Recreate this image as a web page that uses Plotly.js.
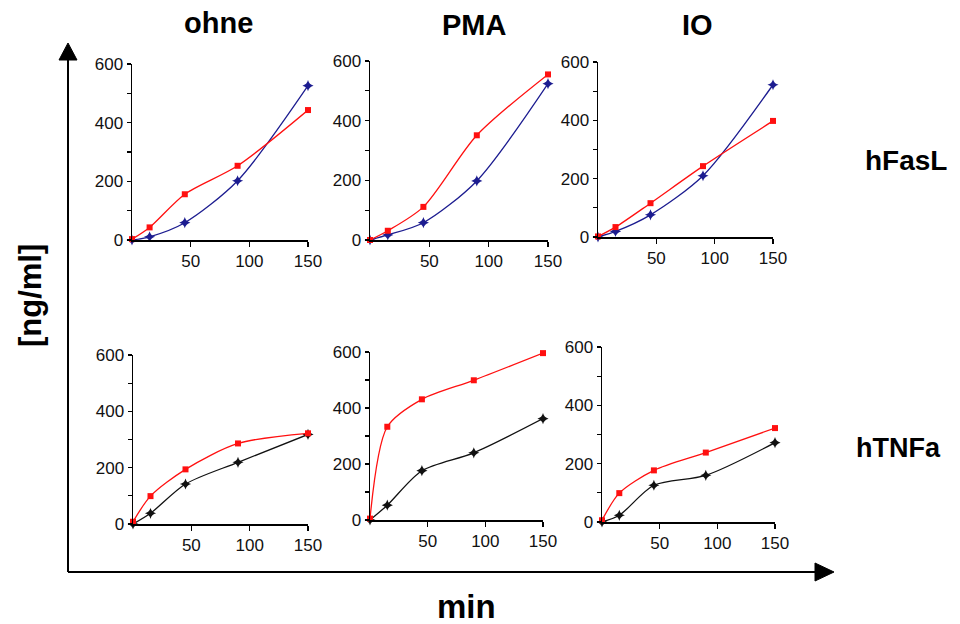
<!DOCTYPE html>
<html>
<head>
<meta charset="utf-8">
<script src="https://cdn.plot.ly/plotly-3.0.1.min.js"></script>
<style>html,body{margin:0;padding:0;background:#fff;}#chart{width:960px;height:624px;}</style>
</head>
<body>
<div id="chart"></div>
<script>
// ---- data ----
var timeMin = [0, 15, 45, 90, 150];
var columnTitles = ['ohne', 'PMA', 'IO'];
var rowTitles = ['hFasL', 'hTNFa'];
var yTickVals = [0, 100, 200, 300, 400, 500, 600];
var yTickText = ['0', '', '200', '', '400', '', '600'];
var xTickVals = [50, 100, 150];
var xTickText = ['50', '100', '150'];

// hFasL (top row): red = stimulated series, blue = second series
var fasOhneRed = [3, 43, 156, 253, 443];
var fasOhneBlue = [0, 11, 59, 202, 526];
var fasPmaRed = [0, 31, 111, 351, 555];
var fasPmaBlue = [0, 17, 58, 198, 524];
var fasIoRed = [2, 34, 116, 243, 398];
var fasIoBlue = [0, 19, 76, 210, 522];

// hTNFa (bottom row): red and black series
var tnfOhneRed = [8, 99, 194, 286, 322];
var tnfOhneBlack = [0, 38, 142, 219, 318];
var tnfPmaRed = [5, 333, 431, 499, 596];
var tnfPmaBlack = [0, 53, 176, 240, 362];
var tnfIoRed = [6, 99, 177, 238, 322];
var tnfIoBlack = [0, 23, 126, 160, 272];

// ---- layout helpers ----
var W = 960, H = 624;
function px(x) { return x / W; }
function py(y) { return 1 - y / H; }

// panel pixel boxes [x0, x1, yTop, yBottom]
var boxes = [
  [132, 308, 64, 240],
  [370, 548, 61, 240],
  [598, 773, 62, 237],
  [133, 308, 355, 524],
  [370, 543, 352, 520],
  [602, 775, 347, 522]
];

var RED = '#ff1010', BLUE = '#1c1c90', BLACK = '#111111';
var seriesSets = [
  [fasOhneRed, fasOhneBlue, BLUE],
  [fasPmaRed, fasPmaBlue, BLUE],
  [fasIoRed, fasIoBlue, BLUE],
  [tnfOhneRed, tnfOhneBlack, BLACK],
  [tnfPmaRed, tnfPmaBlack, BLACK],
  [tnfIoRed, tnfIoBlack, BLACK]
];

var traces = [];
var layout = {
  width: W, height: H,
  margin: {l: 0, r: 0, t: 0, b: 0},
  paper_bgcolor: '#ffffff', plot_bgcolor: 'rgba(0,0,0,0)',
  showlegend: false,
  font: {family: 'Liberation Sans, Arial, sans-serif', color: '#000'},
  shapes: [], annotations: []
};

seriesSets.forEach(function (s, i) {
  var n = i + 1;
  var xa = 'x' + (n === 1 ? '' : n), ya = 'y' + (n === 1 ? '' : n);
  traces.push({
    x: timeMin, y: s[1], xaxis: xa, yaxis: ya, type: 'scatter', mode: 'lines+markers',
    line: {color: s[2], width: 1.3, shape: 'spline', smoothing: 0.8},
    marker: {symbol: 'star-diamond', size: 8, color: s[2]}, cliponaxis: false
  });
  traces.push({
    x: timeMin, y: s[0], xaxis: xa, yaxis: ya, type: 'scatter', mode: 'lines+markers',
    line: {color: RED, width: 1.3, shape: 'spline', smoothing: 0.8},
    marker: {symbol: 'square', size: 6, color: RED}, cliponaxis: false
  });
  var b = boxes[i];
  var xKey = 'xaxis' + (n === 1 ? '' : n), yKey = 'yaxis' + (n === 1 ? '' : n);
  layout[xKey] = {
    domain: [px(b[0]), px(b[1])], anchor: ya, range: [0, 150],
    showline: true, linecolor: '#000', linewidth: 1.5, showgrid: false, zeroline: false,
    tickmode: 'array', tickvals: xTickVals, ticktext: xTickText,
    ticks: 'outside', ticklen: 5, tickwidth: 1.2, tickcolor: '#000',
    tickfont: {size: 17, color: '#111'}
  };
  layout[yKey] = {
    domain: [py(b[3]), py(b[2])], anchor: xa, range: [0, 600],
    showline: true, linecolor: '#000', linewidth: 1.5, showgrid: false, zeroline: false,
    tickmode: 'array', tickvals: yTickVals, ticktext: yTickText,
    ticks: 'outside', ticklen: 4, tickwidth: 1.2, tickcolor: '#000',
    tickfont: {size: 17, color: '#111'}
  };
});

// big outer axes with arrowheads
layout.shapes.push({type: 'line', xref: 'paper', yref: 'paper', x0: px(68), x1: px(68), y0: py(572), y1: py(58), line: {color: '#000', width: 2}});
layout.shapes.push({type: 'line', xref: 'paper', yref: 'paper', x0: px(68), x1: px(817), y0: py(572), y1: py(572), line: {color: '#000', width: 2}});
layout.shapes.push({type: 'path', xref: 'paper', yref: 'paper',
  path: 'M ' + px(59) + ' ' + py(60) + ' L ' + px(68) + ' ' + py(43) + ' L ' + px(77) + ' ' + py(60) + ' Z',
  fillcolor: '#000', line: {color: '#000', width: 1}});
layout.shapes.push({type: 'path', xref: 'paper', yref: 'paper',
  path: 'M ' + px(815) + ' ' + py(563) + ' L ' + px(834) + ' ' + py(572) + ' L ' + px(815) + ' ' + py(581) + ' Z',
  fillcolor: '#000', line: {color: '#000', width: 1}});

function addText(t, x, y, size, angle) {
  layout.annotations.push({text: '<b>' + t + '</b>', xref: 'paper', yref: 'paper', x: px(x), y: py(y),
    xanchor: 'center', yanchor: 'middle', showarrow: false, textangle: angle || 0,
    font: {size: size, color: '#000', family: 'Liberation Sans, Arial, sans-serif'}});
}
addText(columnTitles[0], 218, 23, 29);
addText(columnTitles[1], 474, 25, 29);
addText(columnTitles[2], 697, 25, 29);
addText(rowTitles[0], 906, 160, 28);
addText(rowTitles[1], 898, 448, 27);
addText('[ng/ml]', 30, 296, 31, -90);
addText('min', 466, 606, 33);

Plotly.newPlot('chart', traces, layout, {displayModeBar: false, staticPlot: true});
</script>
</body>
</html>
